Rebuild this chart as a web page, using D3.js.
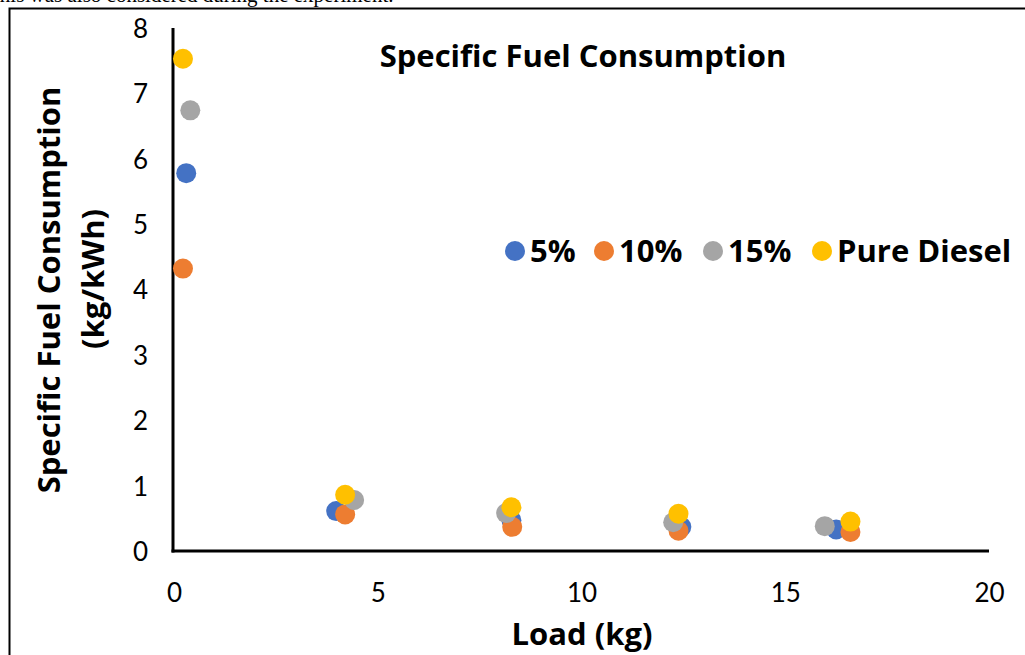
<!DOCTYPE html>
<html><head><meta charset="utf-8">
<script src="https://cdn.jsdelivr.net/npm/d3@7"></script>
<style>
html,body{margin:0;padding:0;background:#fff;overflow:hidden;}
svg{display:block;}
</style></head>
<body>
<svg id="c" width="1025" height="655"></svg>
<script>
const seriesNames = ["5%", "10%", "15%", "Pure Diesel"];
const seriesColors = ["#4472C4", "#ED7D31", "#A5A5A5", "#FFC000"];
const load5 = [0.30, 3.98, 8.28, 12.45, 16.25];
const sfc5 = [5.78, 0.61, 0.47, 0.37, 0.33];
const load10 = [0.22, 4.20, 8.30, 12.38, 16.60];
const sfc10 = [4.32, 0.56, 0.37, 0.31, 0.29];
const load15 = [0.40, 4.42, 8.15, 12.25, 15.97];
const sfc15 = [6.74, 0.78, 0.58, 0.44, 0.38];
const loadD = [0.22, 4.20, 8.28, 12.38, 16.60];
const sfcD = [7.53, 0.86, 0.67, 0.57, 0.45];
const xTicks = [0, 5, 10, 15, 20];
const yTicks = [0, 1, 2, 3, 4, 5, 6, 7, 8];

const series = [
  {name: seriesNames[0], color: seriesColors[0], x: load5, y: sfc5},
  {name: seriesNames[1], color: seriesColors[1], x: load10, y: sfc10},
  {name: seriesNames[2], color: seriesColors[2], x: load15, y: sfc15},
  {name: seriesNames[3], color: seriesColors[3], x: loadD, y: sfcD}
];

const svg = d3.select("#c");
const tickFont = "Lato, 'Open Sans', sans-serif";
const boldFont = "'Open Sans', Lato, sans-serif";
const boldSize = 31;

// cut-off paragraph text at top
svg.append("text").attr("x", -6).attr("y", 2)
  .attr("font-family", "'Liberation Serif', 'Times New Roman', serif")
  .attr("font-size", 21).attr("fill", "#000")
  .text("this was also considered during the experiment.");

// outer border
svg.append("path").attr("d", "M9.5,655 V8.5 H1025")
  .attr("fill", "none").attr("stroke", "#000").attr("stroke-width", 2);

const x = d3.scaleLinear().domain([0, 20]).range([174, 989]);
const y = d3.scaleLinear().domain([0, 8]).range([551, 28]);

// axes
svg.append("line").attr("x1", x(0) - 1).attr("x2", x(0) - 1).attr("y1", y(8)).attr("y2", y(0) + 1.5)
  .attr("stroke", "#000").attr("stroke-width", 3);
svg.append("line").attr("x1", x(0) - 2.5).attr("x2", x(20)).attr("y1", y(0)).attr("y2", y(0))
  .attr("stroke", "#000").attr("stroke-width", 3);

const xAxis = d3.axisBottom(x).tickValues(xTicks).tickSize(0).tickPadding(0).tickFormat(d3.format("d"));
const gx = svg.append("g").attr("transform", `translate(0,${y(0)})`).call(xAxis);
gx.select(".domain").remove();
gx.selectAll("text").attr("font-family", tickFont).attr("font-size", 26).attr("fill", "#000")
  .attr("dy", null).attr("y", 51);

const yAxis = d3.axisLeft(y).tickValues(yTicks).tickSize(0).tickPadding(0).tickFormat(d3.format("d"));
const gy = svg.append("g").attr("transform", `translate(${x(0)},0)`).call(yAxis);
gy.select(".domain").remove();
gy.selectAll("text").attr("font-family", tickFont).attr("font-size", 26).attr("fill", "#000")
  .attr("x", -26).attr("dy", "0.36em");

// points
series.forEach(s => {
  svg.append("g").selectAll("circle").data(s.x.map((v, i) => [v, s.y[i]]))
    .join("circle")
    .attr("cx", d => x(d[0])).attr("cy", d => y(d[1])).attr("r", 10)
    .attr("fill", s.color);
});

// title
svg.append("text").attr("x", 583).attr("y", 67).attr("text-anchor", "middle")
  .attr("font-family", boldFont).attr("font-weight", "bold").attr("font-size", boldSize)
  .text("Specific Fuel Consumption");

// axis titles
svg.append("text").attr("x", 582).attr("y", 645).attr("text-anchor", "middle")
  .attr("font-family", boldFont).attr("font-weight", "bold").attr("font-size", boldSize)
  .text("Load (kg)");
svg.append("text").attr("transform", "translate(60,290) rotate(-90)").attr("text-anchor", "middle")
  .attr("font-family", boldFont).attr("font-weight", "bold").attr("font-size", boldSize)
  .text("Specific Fuel Consumption");
svg.append("text").attr("transform", "translate(104,279) rotate(-90)").attr("text-anchor", "middle")
  .attr("font-family", boldFont).attr("font-weight", "bold").attr("font-size", boldSize)
  .text("(kg/kWh)");

// legend
const legendX = [515, 604, 713, 822];
const lg = svg.append("g");
series.forEach((s, i) => {
  lg.append("circle").attr("cx", legendX[i]).attr("cy", 251).attr("r", 10).attr("fill", s.color);
  lg.append("text").attr("x", legendX[i] + 15).attr("y", 262)
    .attr("font-family", boldFont).attr("font-weight", "bold").attr("font-size", boldSize)
    .text(s.name);
});
</script>
</body></html>
